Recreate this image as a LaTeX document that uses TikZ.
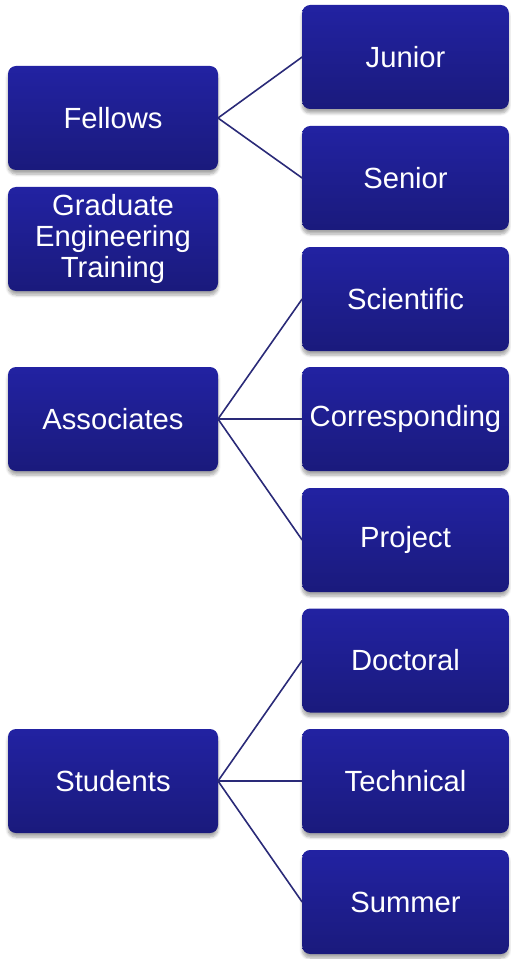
\documentclass[tikz,border=0pt]{standalone}
\usepackage{fontspec}
\setmainfont{Liberation Sans}
\usetikzlibrary{shadows.blur}
\definecolor{boxtop}{HTML}{2222A2}
\definecolor{boxbot}{HTML}{1A1A7C}
\definecolor{linkcol}{HTML}{2A2A78}
\tikzset{
  card/.style={rounded corners=6pt, top color=boxtop, bottom color=boxbot,
    draw=none, text=white, align=center, inner sep=0pt, outer sep=0pt,
    minimum height=78pt,
    font=\fontsize{21.9}{23}\selectfont,
    blur shadow={shadow xshift=0pt, shadow yshift=-3pt, shadow blur steps=6, shadow opacity=35}},
  leftcard/.style={card, minimum width=157.5pt},
  rightcard/.style={card, minimum width=155pt},
  link/.style={draw=linkcol, line width=1.2pt}
}
\begin{document}
\begin{tikzpicture}[x=0.75pt,y=-0.75pt]
\useasboundingbox (0,0) rectangle (510,959);
% left column
\node[leftcard] (fellows) at (113,118) {Fellows};
\node[leftcard] (grad) at (113,239) {Graduate\\Engineering\\Training};
\node[leftcard] (assoc) at (113,419) {Associates};
\node[leftcard] (students) at (113,781) {Students};
% right column
\node[rightcard] (junior) at (405.5,57) {Junior};
\node[rightcard] (senior) at (405.5,178) {Senior};
\node[rightcard] (sci) at (405.5,299) {Scientific};
\node[rightcard] (corr) at (405.5,419) {Corresponding};
\node[rightcard] (proj) at (405.5,540) {Project};
\node[rightcard] (doct) at (405.5,660.5) {Doctoral};
\node[rightcard] (tech) at (405.5,781) {Technical};
\node[rightcard] (summ) at (405.5,902) {Summer};
% connectors
\draw[link] (fellows.east) -- (junior.west);
\draw[link] (fellows.east) -- (senior.west);
\draw[link] (assoc.east) -- (sci.west);
\draw[link] (assoc.east) -- (corr.west);
\draw[link] (assoc.east) -- (proj.west);
\draw[link] (students.east) -- (doct.west);
\draw[link] (students.east) -- (tech.west);
\draw[link] (students.east) -- (summ.west);
\end{tikzpicture}
\end{document}
